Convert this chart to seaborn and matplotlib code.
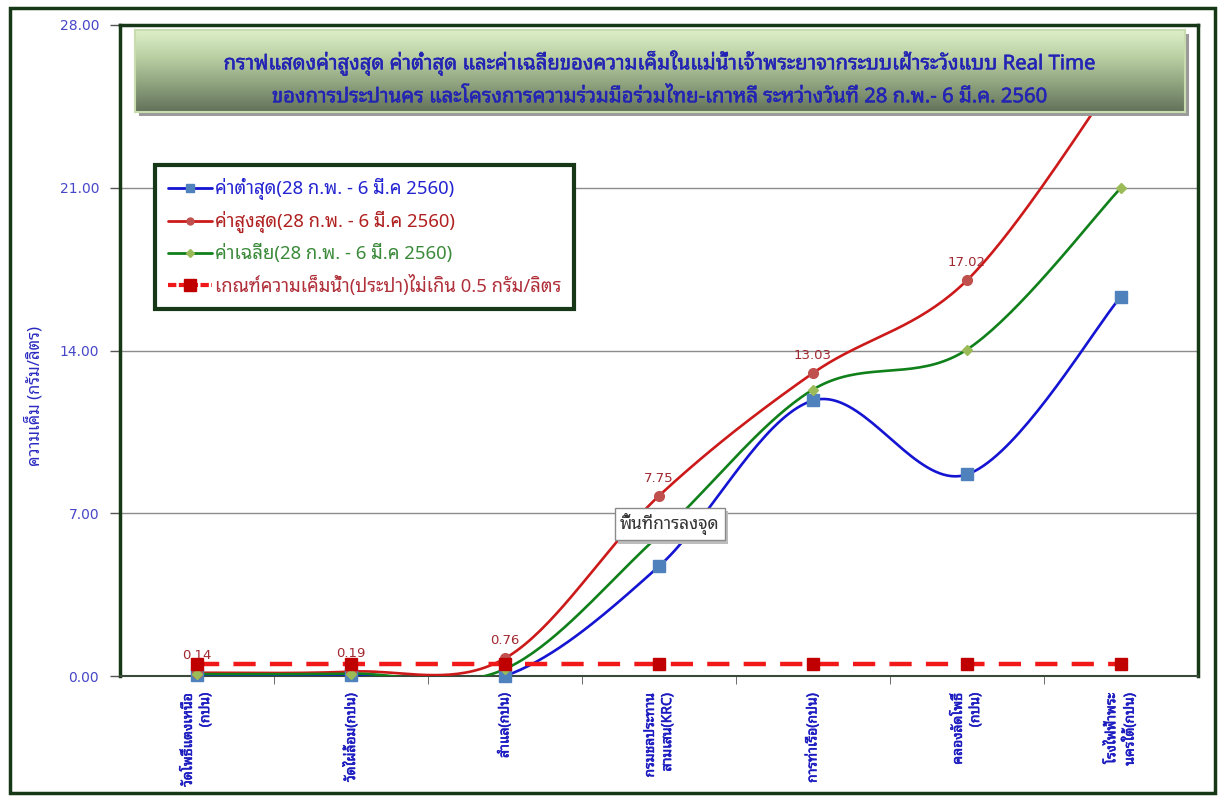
import numpy as np
import pandas as pd
import matplotlib
matplotlib.use('Agg')
import matplotlib.pyplot as plt
import matplotlib.patheffects as pe
import seaborn as sns
from matplotlib.lines import Line2D
from matplotlib.patches import Rectangle
from matplotlib.colors import LinearSegmentedColormap

# ---- data ----
stations = ['วัดโพธิ์แตงเหนือ\n(กปน)', 'วัดไผ่ล้อม(กปน)', 'สำแล(กปน)',
            'กรมชลประทาน\nสามเสน(KRC)', 'การท่าเรือ(กปน)',
            'คลองลัดโพธิ์\n(กปน)', 'โรงไฟฟ้าพระ\nนครใต้(กปน)']
min_vals = [0.05, 0.05, 0.0, 4.72, 11.85, 8.67, 16.32]
max_vals = [0.14, 0.19, 0.76, 7.75, 13.03, 17.02, 26.0]
avg_vals = [0.08, 0.10, 0.30, 6.05, 12.32, 14.04, 21.0]
limit_vals = [0.5, 0.5, 0.5, 0.5, 0.5, 0.5, 0.5]
y_ticks = [0, 7, 14, 21, 28]

lbl_min = 'ค่าต่ำสุด(28 ก.พ. - 6 มี.ค 2560)'
lbl_max = 'ค่าสูงสุด(28 ก.พ. - 6 มี.ค 2560)'
lbl_avg = 'ค่าเฉลี่ย(28 ก.พ. - 6 มี.ค 2560)'
lbl_lim = 'เกณฑ์ความเค็มน้ำ(ประปา)ไม่เกิน 0.5 กรัม/ลิตร'
title1 = 'กราฟแสดงค่าสูงสุด ค่าต่ำสุด และค่าเฉลี่ยของความเค็มในแม่น้ำเจ้าพระยาจากระบบเฝ้าระวังแบบ Real Time'
title2 = 'ของการประปานคร และโครงการความร่วมมือร่วมไทย-เกาหลี ระหว่างวันที่ 28 ก.พ.- 6 มี.ค. 2560'

sns.set_style('white')
plt.rcParams['font.family'] = ['Noto Sans Thai Looped', 'DejaVu Sans']
NUM = ['DejaVu Sans']


def smooth(vals, n=40):
    # excel style smoothed line (bezier through the points)
    x = np.arange(len(vals), dtype=float)
    y = np.asarray(vals, dtype=float)
    xs, ys = [], []
    for i in range(len(vals) - 1):
        i0 = max(i - 1, 0)
        i3 = min(i + 2, len(vals) - 1)
        p0 = np.array([x[i], y[i]])
        p3 = np.array([x[i + 1], y[i + 1]])
        c1 = p0 + (p3 - np.array([x[i0], y[i0]])) / 6.0
        c2 = p3 - (np.array([x[i3], y[i3]]) - p0) / 6.0
        t = np.linspace(0, 1, n)[:, None]
        b = (1 - t) ** 3 * p0 + 3 * (1 - t) ** 2 * t * c1 + 3 * (1 - t) * t ** 2 * c2 + t ** 3 * p3
        xs.extend(b[:, 0])
        ys.extend(b[:, 1])
    return pd.DataFrame({'x': xs, 'y': ys})


fig = plt.figure(figsize=(12.2, 7.98), dpi=100)
ax = fig.add_axes([120 / 1220, 122 / 798, 1078 / 1220, 651 / 798])

# outer chart frame
fig.patches.append(Rectangle((10 / 1220, 5 / 798), 1205 / 1220, 785 / 798,
                             transform=fig.transFigure, fill=False,
                             ec='#173817', lw=2.5))

series = [
    (min_vals, '#1414D2', 's', '#4F81BD', 8.5),
    (max_vals, '#CC1A1A', 'o', '#C0504D', 7),
    (avg_vals, '#10801A', 'D', '#9BBB59', 5),
]
xcat = np.arange(len(stations))
for vals, lc, mk, mc, ms in series:
    sns.lineplot(data=smooth(vals), x='x', y='y', sort=False, ax=ax,
                 color=lc, lw=1.9, zorder=3)
    ax.plot(xcat, vals, ls='none', marker=mk, ms=ms, mfc=mc, mec=mc,
            zorder=4, clip_on=False)

# threshold line
lim_df = pd.DataFrame({'x': xcat, 'y': limit_vals})
sns.lineplot(data=lim_df, x='x', y='y', ax=ax, color='#F01818', lw=3.2,
             linestyle=(0, (5, 3.2)), zorder=5)
ax.plot(xcat, limit_vals, ls='none', marker='s', ms=9, mfc='#C00000',
        mec='#C00000', zorder=6)

# data labels for the max series
for i, v in enumerate(max_vals):
    ax.annotate('%.2f' % v, (i, v), xytext=(0, 8), textcoords='offset points',
                ha='center', va='bottom', fontsize=9.5, color='#A02830',
                family=NUM, annotation_clip=True, zorder=4)

ax.set_xlim(-0.5, len(stations) - 0.5)
ax.set_ylim(0, 28)
ax.set_yticks(y_ticks)
ax.set_yticklabels(['%.2f' % v for v in y_ticks], color='#4646C8',
                   fontsize=10, family=NUM)
ax.tick_params(axis='y', length=7, width=1, color='#555555', pad=8,
               left=True)
ax.yaxis.grid(True, color='#8C8C8C', lw=1)
ax.set_axisbelow(True)

ax.set_xticks(xcat)
ax.set_xticklabels(stations, rotation=90, ha='center', va='top',
                   multialignment='right', color='#1C1CC0', fontsize=10)
for t in ax.get_xticklabels():
    t.set_path_effects([pe.withStroke(linewidth=0.4, foreground='#1C1CC0')])
ax.tick_params(axis='x', which='major', length=0, pad=12)
ax.set_xticks(np.arange(0.5, len(stations) - 1, 1), minor=True)
ax.tick_params(axis='x', which='minor', length=6, color='#555555',
               bottom=True)
ax.set_xlabel('')
ax.set_ylabel('ความเค็ม (กรัม/ลิตร)', color='#2A2AC0', fontsize=12)
ax.yaxis.set_label_coords(-0.071, 0.43)

for side in ['left', 'top', 'right']:
    ax.spines[side].set_color('#173817')
    ax.spines[side].set_linewidth(2.5)
ax.spines['bottom'].set_color('#3A4A3A')
ax.spines['bottom'].set_linewidth(1.5)

# legend
handles = [
    Line2D([], [], color='#1414D2', lw=2, marker='s', ms=6, mfc='#4F81BD', mec='#4F81BD'),
    Line2D([], [], color='#CC1A1A', lw=2, marker='o', ms=5, mfc='#C0504D', mec='#C0504D'),
    Line2D([], [], color='#10801A', lw=2, marker='D', ms=4, mfc='#9BBB59', mec='#9BBB59'),
    Line2D([], [], color='#F01818', lw=3, ls=(0, (2, 0.6)), marker='s', ms=8, mfc='#C00000', mec='#C00000'),
]
leg = ax.legend(handles, [lbl_min, lbl_max, lbl_avg, lbl_lim],
                loc='upper left', bbox_to_anchor=(155 / 1220, 1 - 165 / 798),
                bbox_transform=fig.transFigure, fancybox=False, frameon=True,
                edgecolor='#173817', framealpha=1, fontsize=13.3,
                handlelength=2.4, handletextpad=0.15, labelspacing=0.6,
                borderpad=0.7, borderaxespad=0,
                labelcolor=['#2323D2', '#B02020', '#3A8A3A', '#B0303A'])
leg.get_frame().set_linewidth(3)
leg.set_zorder(10)

# tooltip with a small drop shadow
tip = ax.text((620 - 120) / 1078, (676 - 524) / 651, 'พื้นที่การลงจุด',
              transform=ax.transAxes, fontsize=12.5, color='#333333',
              va='center', ha='left', zorder=11,
              bbox=dict(boxstyle='square,pad=0.3', fc='white', ec='#8A8A8A', lw=1))
tip.get_bbox_patch().set_path_effects([
    pe.SimplePatchShadow(offset=(2.5, -2.5), shadow_rgbFace='#BDBDBD', alpha=1),
    pe.Normal()])

# title box with gradient
sh = fig.add_axes([139 / 1220, 1 - 116 / 798, 1050 / 1220, 82 / 798])
sh.set_facecolor('#9A9A9A')
sh.set_xticks([])
sh.set_yticks([])
for s in sh.spines.values():
    s.set_visible(False)
tb = fig.add_axes([135 / 1220, 1 - 112 / 798, 1050 / 1220, 82 / 798])
cmap = LinearSegmentedColormap.from_list('tb', ['#DDEFC8', '#B9CFA2', '#8EA27E', '#62725A'])
tb.imshow(np.linspace(0, 1, 100)[:, None], aspect='auto', cmap=cmap,
          extent=[0, 1, 0, 1])
tb.set_xlim(0, 1)
tb.set_ylim(0, 1)
tb.set_xticks([])
tb.set_yticks([])
for s in tb.spines.values():
    s.set_color('#C8DCB0')
    s.set_linewidth(1.5)
for txt, yy in [(title1, 0.6), (title2, 0.18)]:
    tb.text(0.5, yy, txt, ha='center', va='center', fontsize=14.6,
            color='#2323B4',
            path_effects=[pe.withStroke(linewidth=0.35, foreground='#2323B4')])

fig.savefig('out.png', dpi=100)
